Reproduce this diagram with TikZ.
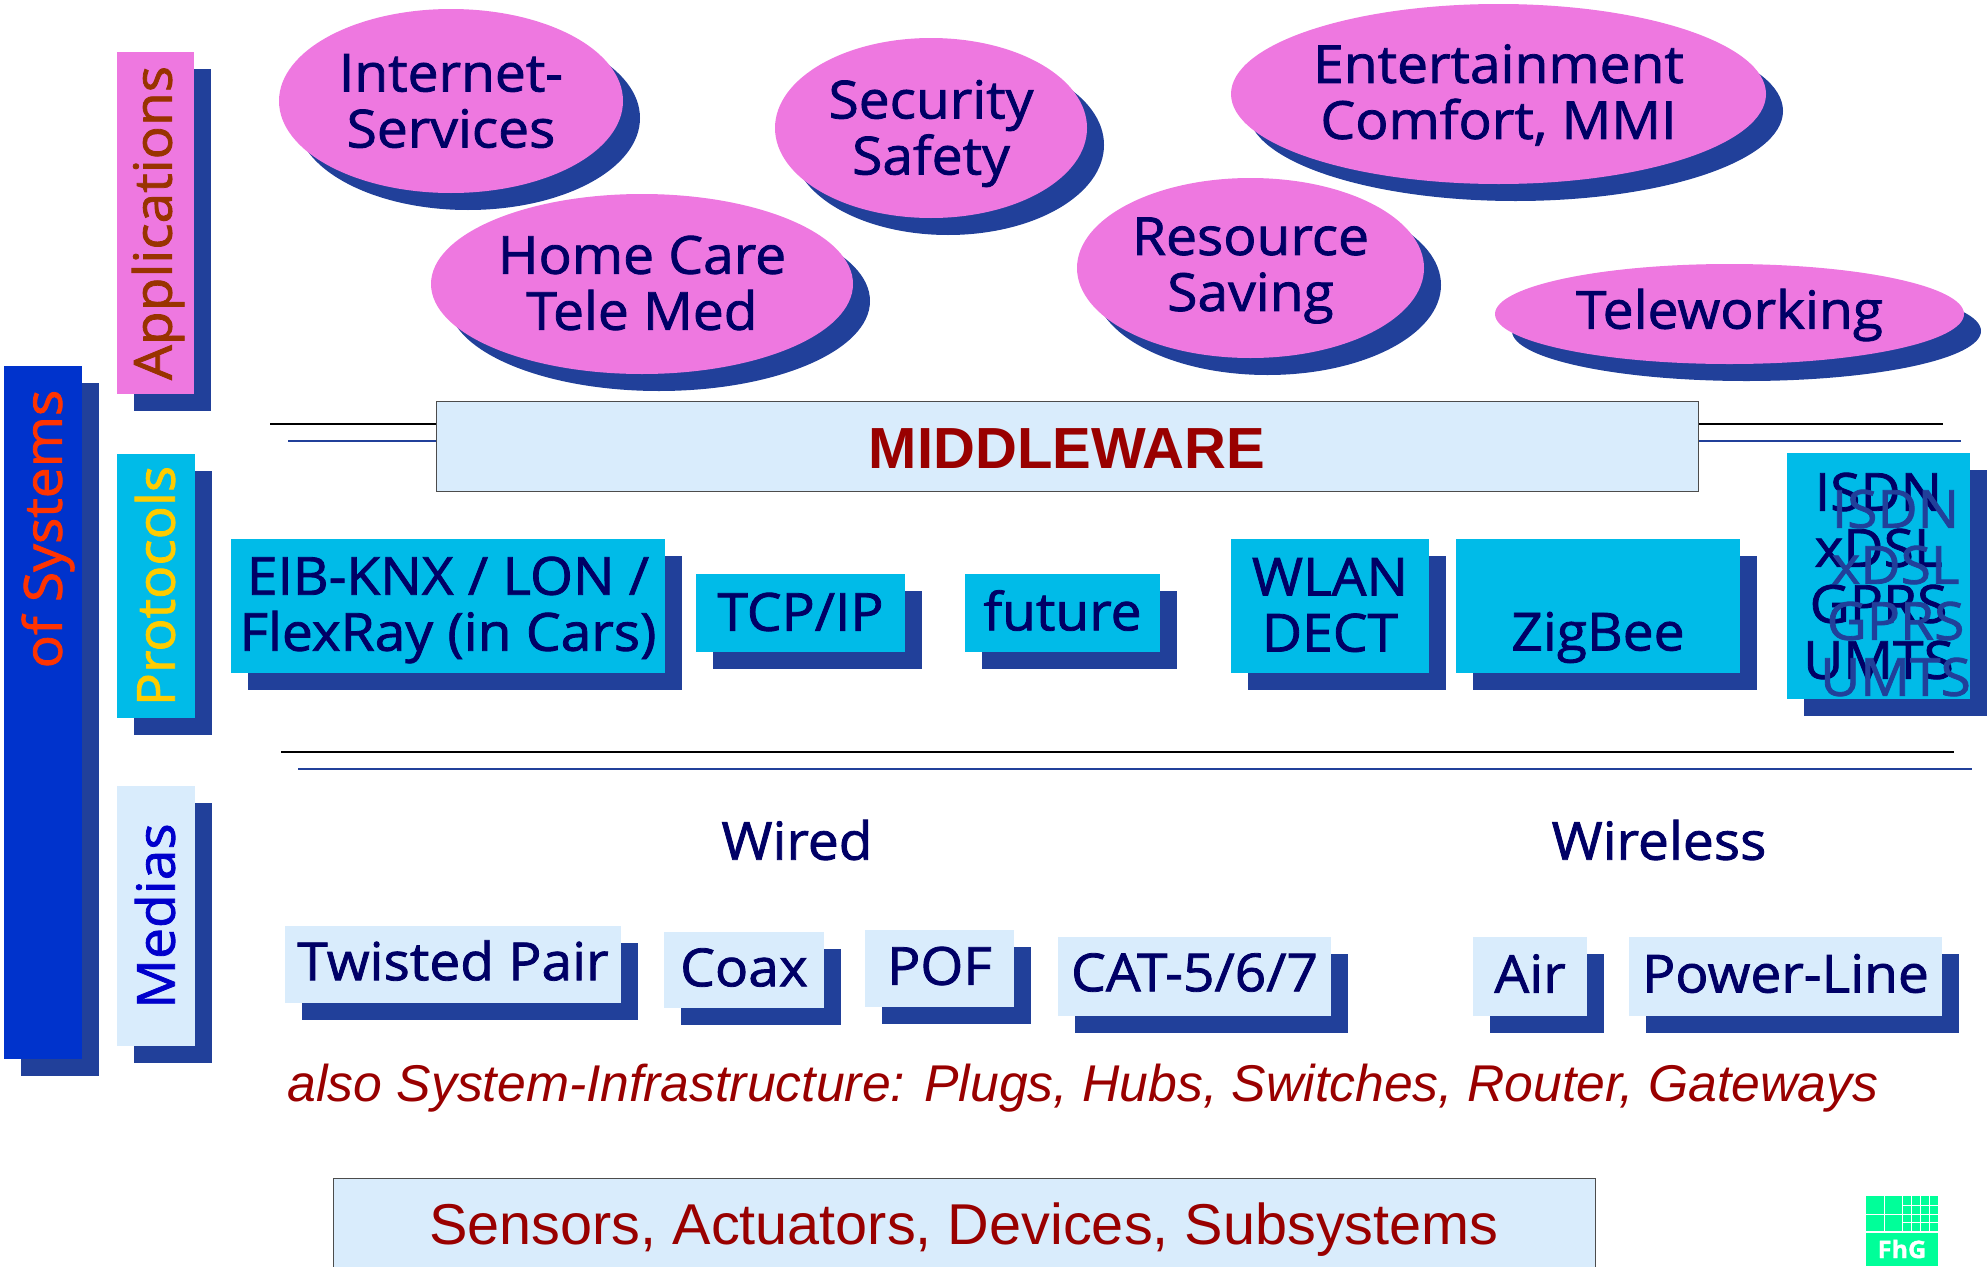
\documentclass[tikz,border=0pt]{standalone}
\usepackage{fontspec}
\setmainfont{Open Sans}[FakeStretch=1.05, RawFeature={embolden=1.5}]
\newfontfamily\arialfont{Liberation Sans}
\usetikzlibrary{positioning, shapes.geometric}
\definecolor{navy}{HTML}{000066}
\definecolor{shadowblue}{HTML}{21409A}
\definecolor{cyanbox}{HTML}{00BBE8}
\definecolor{pinkbox}{HTML}{EE78E0}
\definecolor{lightbox}{HTML}{D9ECFC}
\definecolor{sysblue}{HTML}{0033CC}
\definecolor{darkred}{HTML}{990000}
\definecolor{fhggreen}{HTML}{00FF99}
\definecolor{systext}{HTML}{FF3300}
\definecolor{apptext}{HTML}{993300}
\definecolor{protext}{HTML}{FFCC00}
\definecolor{medtext}{HTML}{0000CC}
\begin{document}
\begin{tikzpicture}[x=1pt, y=-1pt,
    every node/.style={inner sep=0, outer sep=0, align=center, text=navy, font=\fontsize{52.5}{56}\selectfont},
    b/.style={minimum width=\bw pt, minimum height=\bh pt},
    s/.style={b, fill=shadowblue},
    e/.style={ellipse, b, fill=pinkbox},
    es/.style={ellipse, s},
    bar/.style={line width=1.6pt},
    plate/.style={minimum width=1262pt, fill=lightbox, draw=black!70, thick},
    redtxt/.style={text=darkred, font=\arialfont\fontsize{#1}{64}\selectfont}]
  \useasboundingbox (0,0) rectangle (1988,1266);

  % side bars
  \foreach \n/\x/\y/\bw/\bh/\c/\tc/\tx/\ty/\txt in {sys/43/712.5/78/693/sysblue/systext/48/529/of Systems,
      app/155.5/223/77/342/pinkbox/apptext/158/223/Applications,
      pro/156/586/78/264/cyanbox/protext/155/586/Protocols,
      med/156/916/78/260/lightbox/medtext/155/916/Medias} {
    \node[s] (\n s) at (\x+17,\y+17) {};
    \node[b, fill=\c] (\n) at (\x,\y) {};
    \node[rotate=90, text=\tc] (\n t) at (\tx,\ty) {\txt};
  }

  % applications
  \foreach \n/\x/\y/\bw/\bh/\d/\txt in {internet/451/101/344/184/0/{Internet-\\Services},
      security/931/128/312/180/5.5/{Security\\Safety},
      entertain/1498.5/94/535/180/1/{Entertainment\\Comfort, MMI},
      homecare/642/284/422/180/-1/{Home Care\\Tele Med},
      resource/1250.5/268/347/180/2.5/{Resource\\Saving},
      telework/1729.5/314/469/100/1/Teleworking} {
    \node[es] (\n s) at (\x+17,\y+17) {};
    \node[e] (\n) at (\x,\y) {};
    \node (\n t) at (\x,\y+\d) {\txt};
  }

  % separators
  \draw[bar, black] (270,424) -- (1943,424);
  \draw[bar, shadowblue] (288,441) -- (1961,441);
  \draw[bar, black] (281,752) -- (1954,752);
  \draw[bar, shadowblue] (298,769) -- (1972,769);

  \node[plate, minimum height=90pt] (middleware) at (1067,446) {};
  \node[text=darkred, font=\arialfont\bfseries\fontsize{58}{64}\selectfont] (middlewaret) at (1067,449) {MIDDLEWARE};

  % protocols
  \foreach \n/\x/\y/\bw/\bh/\d/\txt in {eib/448/606/434/134/4/{EIB-KNX / LON /\\FlexRay (in Cars)},
      tcp/800.5/613/209/78/-1/{TCP/IP},
      future/1062.5/613/195/78/-2.5/future,
      wlan/1330/606/198/134/-1/{WLAN\\DECT},
      zigbee/1598/606/284/134/4/{\phantom{Z}\\ZigBee},
      isdn/1878.5/576/183/246/0/{ISDN\\xDSL\\GPRS\\UMTS}} {
    \node[s] (\n s) at (\x+17,\y+17) {};
    \node[b, fill=cyanbox] (\n) at (\x,\y) {};
    \node (\n t) at (\x,\y+\d) {\txt};
  }
  \node[text=shadowblue, below right=17pt and 17pt of isdnt.center, anchor=center] (isdng) {ISDN\\xDSL\\GPRS\\UMTS};

  % medias
  \node (wired) at (797,840) {Wired};
  \node (wireless) at (1659,840) {Wireless};
  \foreach \n/\x/\y/\bw/\bh/\d/\txt in {twisted/453/964.5/336/77/-4/Twisted Pair,
      coax/744/970/160/76/-2.5/Coax,
      pof/939.5/968.5/149/77/-2.5/POF,
      cat/1194.5/976.5/273/79/-4/{CAT-5/6/7},
      air/1530/976.5/114/79/-3/Air,
      power/1785.5/976.5/313/79/-3/Power-Line} {
    \node[s] (\n s) at (\x+17,\y+17) {};
    \node[b, fill=lightbox] (\n) at (\x,\y) {};
    \node (\n t) at (\x,\y+\d) {\txt};
  }

  \node[text=darkred, font=\arialfont\itshape\fontsize{51.7}{60}\selectfont] (infra) at (1083,1088)
    {also System-Infrastructure: Plugs, Hubs, Switches, Router, Gateways};
  \node[plate, minimum height=100pt] (sensors) at (964,1228) {};
  \node[redtxt=57.6] (sensorst) at (964,1230) {Sensors, Actuators, Devices, Subsystems};

  % logo
  \fill[fhggreen] (1866,1196) rectangle (1938,1266);
  \foreach \x in {1884,1902,1911,1920,1929}
    \draw[white, line width=1pt] (\x,1196) -- (\x,1232);
  \foreach \y in {1205,1222}
    \draw[white, line width=1pt] (1902,\y) -- (1938,\y);
  \draw[white, line width=1pt] (1866,1214) -- (1938,1214);
  \draw[white, line width=1.5pt] (1866,1232) -- (1938,1232);
  \node[text=white, font=\bfseries\fontsize{24}{28}\selectfont] (fhg) at (1902,1249) {FhG};
\end{tikzpicture}
\end{document}
